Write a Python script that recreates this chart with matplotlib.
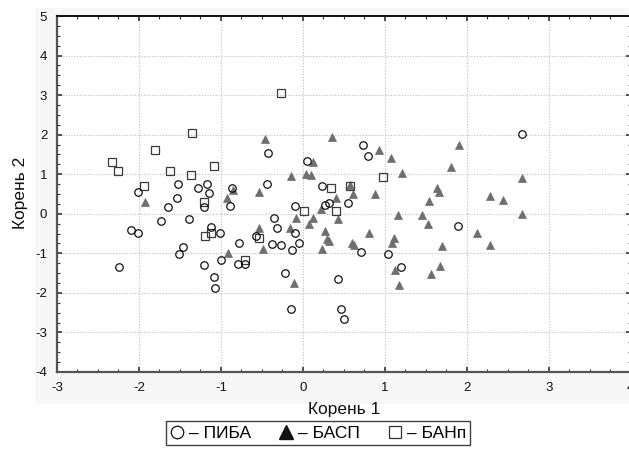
import matplotlib
matplotlib.use("Agg")
import matplotlib.pyplot as plt
from matplotlib.lines import Line2D
from matplotlib.patches import Rectangle
from matplotlib.ticker import MultipleLocator

plt.rcParams['font.family'] = ['Liberation Sans', 'DejaVu Sans']

# ПИБА (circles)
piba_x = [-0.42, -2.01, -1.52, -1.28, -1.17, -1.14, -0.87, -0.44, -1.53, -1.64,
          -1.20, -0.89, -1.73, -1.39, -0.35, -2.10, -2.01, -1.12, -1.01, -0.31,
          -0.78, -0.57, -0.38, -0.27, -1.46, -1.51, -1.00, -0.79, -0.70, -1.20,
          -2.24, -1.09, -1.07, 0.74, 0.79, 0.05, 0.24, 0.27, 0.32, 0.55,
          -0.10, -0.09, -0.05, -0.13, 0.71, 1.04, 1.20, -0.22, 0.43, -0.15,
          0.47, 0.50, 1.89, 2.67]
piba_y = [1.53, 0.56, 0.75, 0.66, 0.76, 0.53, 0.64, 0.75, 0.39, 0.17,
          0.17, 0.20, -0.19, -0.12, -0.10, -0.40, -0.49, -0.34, -0.49, -0.37,
          -0.74, -0.57, -0.76, -0.79, -0.84, -1.01, -1.18, -1.26, -1.26, -1.29,
          -1.34, -1.59, -1.87, 1.74, 1.47, 1.33, 0.69, 0.22, 0.28, 0.28,
          0.20, -0.48, -0.74, -0.92, -0.96, -1.01, -1.34, -1.49, -1.65, -2.41,
          -2.41, -2.67, -0.32, 2.01]

# БАСП (triangles)
basp_x = [-0.46, -1.93, -0.85, -0.92, -0.53, -0.53, -0.49, -0.91, 0.35, 0.93,
          1.08, 1.90, 0.13, 0.04, 0.10, -0.14, 1.21, 1.81, 0.57, 0.61,
          0.88, 0.40, 1.64, 1.66, 1.54, 0.22, -0.08, 0.13, 0.43, 1.16,
          1.46, -0.16, 0.07, 1.53, 0.27, 0.81, 0.29, 0.32, 0.23, 0.60,
          0.63, 1.09, 1.11, 1.70, 1.13, 1.68, 1.57, -0.11, 1.17, 2.67,
          2.28, 2.44, 2.68, 2.13, 2.29]
basp_y = [1.89, 0.29, 0.59, 0.40, 0.54, -0.37, -0.89, -1.00, 1.94, 1.62,
          1.40, 1.75, 1.31, 1.01, 0.98, 0.96, 1.04, 1.18, 0.72, 0.49,
          0.49, 0.39, 0.65, 0.54, 0.33, 0.13, -0.10, -0.10, -0.14, -0.04,
          -0.04, -0.35, -0.27, -0.27, -0.43, -0.49, -0.65, -0.68, -0.88, -0.73,
          -0.80, -0.73, -0.62, -0.81, -1.41, -1.33, -1.52, -1.74, -1.80, 0.90,
          0.44, 0.35, 0.00, -0.48, -0.78]

# БАНп (squares)
banp_x = [-0.27, -1.35, -1.81, -2.33, -2.25, -1.62, -1.09, -1.36, -1.94, -1.21,
          -1.19, -1.12, -0.54, -0.70, 0.98, 0.34, 0.57, 0.02, 0.41]
banp_y = [3.05, 2.04, 1.62, 1.32, 1.08, 1.08, 1.20, 0.99, 0.69, 0.31,
          -0.57, -0.49, -0.60, -1.18, 0.92, 0.64, 0.69, 0.06, 0.06]

x_ticks = [-3, -2, -1, 0, 1, 2, 3, 4]
y_ticks = [-4, -3, -2, -1, 0, 1, 2, 3, 4, 5]
legend_labels = ['– ПИБА', '– БАСП', '– БАНп']

W, H = 629, 466
fig = plt.figure(figsize=(W / 100, H / 100), dpi=100)
fig.patch.set_facecolor('white')

# grey background panel
fig.patches.append(Rectangle((35 / W, 1 - 404 / H), 1 - 35 / W, (404 - 8) / H,
                             transform=fig.transFigure, facecolor='#f7f7f7',
                             edgecolor='none', zorder=0))

ax = fig.add_axes([57 / W, 1 - 372 / H, (630.6 - 57) / W, (372 - 16) / H])
ax.set_facecolor('white')
ax.set_zorder(1)

ax.plot(basp_x, basp_y, linestyle='none', marker='^', markersize=6.2,
        markerfacecolor='#6e6e6e', markeredgecolor='#6e6e6e', markeredgewidth=0.5, zorder=3)
ax.plot(banp_x, banp_y, linestyle='none', marker='s', markersize=5.6,
        markerfacecolor='none', markeredgecolor='#3a3a3a', markeredgewidth=0.9, zorder=4)
ax.plot(piba_x, piba_y, linestyle='none', marker='o', markersize=5.4,
        markerfacecolor='none', markeredgecolor='#111111', markeredgewidth=0.9, zorder=5)

ax.set_xlim(-3, 4)
ax.set_ylim(-4, 5)
ax.set_xticks(x_ticks)
ax.set_yticks(y_ticks)
ax.set_xticklabels([str(t) for t in x_ticks])
ax.set_yticklabels([str(t) for t in y_ticks])
ax.xaxis.set_minor_locator(MultipleLocator(0.25))
ax.yaxis.set_minor_locator(MultipleLocator(0.25))
ax.tick_params(which='both', direction='in', top=True, right=True,
               labelsize=9.5, colors='#333333', labelcolor='#111111')
ax.tick_params(which='major', length=3.5, width=1.2, pad=7)
ax.tick_params(which='minor', length=2, width=0.8)

ax.grid(True, which='major', linestyle=(0, (1, 1.5)), color='#bdbdbd', linewidth=0.8)
ax.set_axisbelow(True)

for side in ['left', 'bottom']:
    ax.spines[side].set_color('#555555')
    ax.spines[side].set_linewidth(1.6)
ax.spines['top'].set_color('#111111')
ax.spines['top'].set_linewidth(1.4)
ax.spines['right'].set_color('#999999')
ax.spines['right'].set_linewidth(0.8)

ax.set_xlabel('Корень 1', fontsize=12.5, color='#111111', labelpad=6)
fig.text(20 / W, 1 - 193 / H, 'Корень 2', rotation=90, fontsize=12.5,
         color='#111111', ha='center', va='center')

handles = [
    Line2D([], [], linestyle='none', marker='o', markersize=9,
           markerfacecolor='none', markeredgecolor='#111111', markeredgewidth=0.9),
    Line2D([], [], linestyle='none', marker='^', markersize=10,
           markerfacecolor='#111111', markeredgecolor='#111111'),
    Line2D([], [], linestyle='none', marker='s', markersize=8,
           markerfacecolor='none', markeredgecolor='#333333', markeredgewidth=0.9),
]
leg = fig.legend(handles, legend_labels, loc='center', bbox_to_anchor=(318 / W, 1 - 433 / H),
                 ncol=3, frameon=True, fancybox=False, fontsize=12.5,
                 handlelength=0.8, handletextpad=0.3, columnspacing=1.6,
                 borderpad=0.25, borderaxespad=0)
leg.get_frame().set_edgecolor('#111111')
leg.get_frame().set_linewidth(1.0)

fig.savefig('out.png', dpi=100, facecolor='white')
